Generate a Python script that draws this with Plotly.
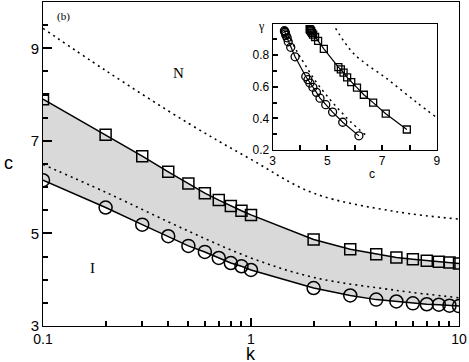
import plotly.graph_objects as go

# boundary data: k vs c for the two transition lines
k = [0.1, 0.2, 0.3, 0.4, 0.5, 0.6, 0.7, 0.8, 0.9, 1, 2, 3, 4, 5, 6, 7, 8, 9, 10]
c_sq = [7.90, 7.13, 6.67, 6.33, 6.08, 5.87, 5.72, 5.59, 5.49, 5.40,
        4.87, 4.66, 4.55, 4.48, 4.44, 4.41, 4.39, 4.37, 4.35]
c_ci = [6.15, 5.56, 5.19, 4.94, 4.73, 4.60, 4.47, 4.36, 4.29, 4.21,
        3.82, 3.66, 3.57, 3.53, 3.49, 3.47, 3.46, 3.44, 3.43]

# dotted curves in the main panel
k_dot = [0.1, 0.2, 0.5, 1, 2, 5, 10]
c_dot_hi = [9.43, 8.52, 7.38, 6.60, 5.87, 5.47, 5.31]
c_dot_lo = [6.49, 5.89, 5.05, 4.47, 4.05, 3.77, 3.61]

# inset: gamma vs c
g_sq = [0.33, 0.43, 0.50, 0.55, 0.595, 0.63, 0.66, 0.69, 0.71, 0.725,
        0.84, 0.89, 0.915, 0.93, 0.94, 0.95, 0.955, 0.96, 0.965]
g_ci = [0.29, 0.376, 0.44, 0.487, 0.528, 0.565, 0.597, 0.624, 0.645, 0.665,
        0.79, 0.85, 0.885, 0.91, 0.925, 0.935, 0.945, 0.95, 0.955]
ins_dot_lo_c = [3.65, 3.9, 4.2, 4.55, 4.95, 5.4, 5.84, 6.39]
ins_dot_lo_g = [0.90, 0.82, 0.735, 0.64, 0.55, 0.46, 0.38, 0.296]
ins_dot_hi_c = [5.30, 5.96, 7.18, 8.27, 8.96]
ins_dot_hi_g = [0.97, 0.81, 0.65, 0.50, 0.41]

SANS = "Liberation Sans, Arial, sans-serif"
SERIF = "Liberation Serif, Times New Roman, serif"
DOTS = "2px,4px"
NOGRID = 'rgba(0,0,0,0)'

fig = go.Figure()

# shaded band between the two boundaries
fig.add_trace(go.Scatter(
    x=k + k[::-1],
    y=c_sq + c_ci[::-1],
    fill='toself',
    fillcolor='#d9d9d9',
    line=dict(width=0),
    mode='lines',
    hoverinfo='skip'
))

for yy in (c_dot_hi, c_dot_lo):
    fig.add_trace(go.Scatter(
        x=k_dot, y=yy, mode='lines',
        line=dict(color='black', width=1.6, dash=DOTS, shape='spline')
    ))

fig.add_trace(go.Scatter(
    x=k, y=c_sq, mode='lines+markers',
    line=dict(color='black', width=1.5),
    marker=dict(symbol='square-open', size=11, color='black', line=dict(width=1.5))
))
fig.add_trace(go.Scatter(
    x=k, y=c_ci, mode='lines+markers',
    line=dict(color='black', width=1.5),
    marker=dict(symbol='circle-open', size=13, color='black', line=dict(width=1.5))
))

# inset
fig.add_trace(go.Scatter(
    x=ins_dot_lo_c, y=ins_dot_lo_g, mode='lines', xaxis='x2', yaxis='y2',
    line=dict(color='black', width=1.5, dash=DOTS, shape='spline')
))
fig.add_trace(go.Scatter(
    x=ins_dot_hi_c, y=ins_dot_hi_g, mode='lines', xaxis='x2', yaxis='y2',
    line=dict(color='black', width=1.5, dash=DOTS, shape='spline')
))
fig.add_trace(go.Scatter(
    x=c_sq, y=g_sq, mode='lines+markers', xaxis='x2', yaxis='y2',
    line=dict(color='black', width=1.2),
    marker=dict(symbol='square-open', size=7, color='black', line=dict(width=1.3))
))
fig.add_trace(go.Scatter(
    x=c_ci, y=g_ci, mode='lines+markers', xaxis='x2', yaxis='y2',
    line=dict(color='black', width=1.2),
    marker=dict(symbol='circle-open', size=8, color='black', line=dict(width=1.3))
))

fig.update_layout(
    width=469, height=362,
    margin=dict(l=43, r=10, t=2, b=36),
    paper_bgcolor='white', plot_bgcolor='white',
    showlegend=False,
    font=dict(family=SANS, color='black'),
    xaxis=dict(
        type='log', range=[-1, 1], dtick=1,
        showline=True, mirror=True, linecolor='black', gridcolor=NOGRID,
        ticks='inside', ticklen=8, tickwidth=2, tickcolor='black',
        tickfont=dict(size=14),
        minor=dict(ticks='inside', ticklen=5, tickwidth=2, tickcolor='black',
                   dtick='D1', gridcolor=NOGRID),
    ),
    yaxis=dict(
        range=[3, 10], tick0=3, dtick=2,
        showline=True, mirror=True, linecolor='black', gridcolor=NOGRID,
        ticks='inside', ticklen=9, tickwidth=2, tickcolor='black',
        tickfont=dict(size=15),
        minor=dict(ticks='inside', ticklen=5, tickwidth=2, tickcolor='black',
                   dtick=0.5, gridcolor=NOGRID),
    ),
    xaxis2=dict(
        domain=[0.552, 0.947], anchor='y2', range=[3, 9], tick0=3, dtick=2,
        showline=True, mirror=True, linecolor='black', gridcolor=NOGRID,
        ticks='inside', ticklen=5, tickwidth=1.5, tickcolor='black',
        tickfont=dict(size=12),
        minor=dict(ticks='inside', ticklen=5, tickwidth=1.5, tickcolor='black',
                   dtick=1, gridcolor=NOGRID),
    ),
    yaxis2=dict(
        domain=[0.543, 0.931], anchor='x2', range=[0.2, 0.995], tick0=0.2, dtick=0.2,
        showline=True, mirror=True, linecolor='black', gridcolor=NOGRID,
        ticks='inside', ticklen=5, tickwidth=1.5, tickcolor='black',
        tickfont=dict(size=12),
        minor=dict(ticks='inside', ticklen=4, tickwidth=1.5, tickcolor='black',
                   dtick=0.1, gridcolor=NOGRID),
    ),
    annotations=[
        dict(x=0.05, y=0.954, text='(b)', font=dict(family=SERIF, size=11)),
        dict(x=0.325, y=0.781, text='N', font=dict(family=SERIF, size=15)),
        dict(x=0.119, y=0.179, text='I', font=dict(family=SERIF, size=15)),
        dict(x=-0.084, y=0.503, text='c', font=dict(family=SANS, size=18)),
        dict(x=0.5, y=-0.085, text='k', font=dict(family=SANS, size=18)),
        dict(x=0.526, y=0.926, text='γ', font=dict(family=SERIF, size=12)),
        dict(x=0.791, y=0.469, text='c', font=dict(family=SANS, size=12)),
    ]
)
fig.update_annotations(xref='paper', yref='paper', showarrow=False,
                       xanchor='center', yanchor='middle')

fig.write_html("out.html", config={'displayModeBar': False},
               post_script="document.body.style.margin='0';")
